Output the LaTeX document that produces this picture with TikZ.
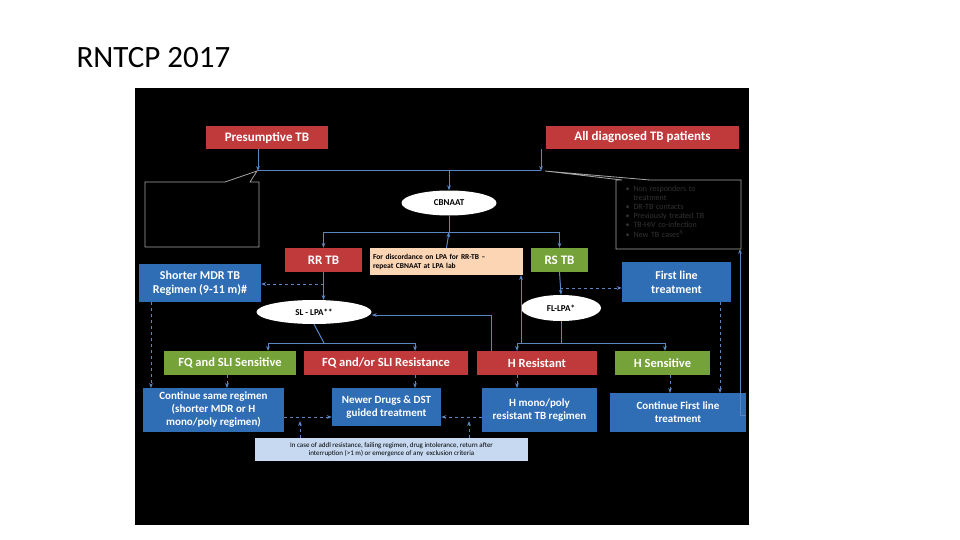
\documentclass[tikz,border=0pt]{standalone}
\usepackage{fontspec}
\setmainfont{Carlito}
\usetikzlibrary{arrows.meta,shapes.geometric}
\definecolor{rd}{HTML}{C0393B}
\definecolor{gr}{HTML}{76A23A}
\definecolor{bl}{HTML}{2F6DB5}
\definecolor{ln}{HTML}{5B86C4}
\definecolor{org}{HTML}{FCD5B5}
\definecolor{nb}{HTML}{C6D9F1}
\tikzset{
 bx/.style={draw=none,text=white,font=\bfseries,align=center,inner sep=0pt},
 rbox/.style={bx,fill=rd,font=\bfseries\fontsize{13}{14}\selectfont},
 gbox/.style={bx,fill=gr,font=\bfseries\fontsize{12.5}{14}\selectfont},
 bbox/.style={bx,fill=bl,font=\bfseries\fontsize{11}{13}\selectfont},
 ell/.style={ellipse,fill=white,inner sep=0pt,font=\bfseries\fontsize{9}{10}\selectfont},
 ar/.style={ln,line width=1pt,-{Stealth[length=5pt]}},
 da/.style={ar,dashed},
 pl/.style={ln,line width=1pt}
}
\begin{document}
\begin{tikzpicture}[x=1pt,y=-1pt]
\fill[white] (0,0) rectangle (960,540);
\node[anchor=west,font=\fontsize{31}{34}\selectfont] (title) at (73,58) {RNTCP 2017};
\fill[black] (135,88) rectangle (749,525);
% top
\node[rbox,minimum width=122,minimum height=23] (pt) at (267,137.5) {Presumptive TB};
\node[rbox,minimum width=193,minimum height=23] (ad) at (642.5,137.5) {All diagnosed TB patients};
\coordinate (j1) at (258,171); \coordinate (j2) at (541,171); \coordinate (jc) at (449,171);
\draw[ar] (pt.south -| j1) -- (j1);
\draw[ar] (ad.south -| j2) -- (j2);
\draw[pl] (j1) -- (j2);
% callouts
\draw[gray!70,line width=0.8pt] (145,182) -- (225,182) -- (257,171) -- (250,182) -- (259,182) -- (259,247) -- (145,247) -- cycle;
\node[inner sep=0] (lc) at (202,215) {};
\draw[gray!70,line width=0.8pt] (616,180) -- (622,180) -- (545,171) -- (650,180) -- (741,180) -- (741,249) -- (616,249) -- cycle;
\node[anchor=north west,text=black!80!white,font=\fontsize{8}{9.2}\selectfont,align=left,text width=110] (rc) at (622,182)
 {\textbullet\enspace Non responders to\\\phantom{\textbullet\enspace}treatment\\\textbullet\enspace DR-TB contacts\\\textbullet\enspace Previously treated TB\\\textbullet\enspace TB-HIV co-infection\\\textbullet\enspace New TB cases$^{\$}$};
% CBNAAT
\node[ell,minimum width=95,minimum height=25] (cb) at (449,203) {CBNAAT};
\draw[ar] (jc) -- (cb.north);
\coordinate (k) at (449,232);
\draw[pl] (cb.south) -- (k);
\node[rbox,minimum width=77,minimum height=24] (rr) at (323.5,260) {RR TB};
\node[gbox,minimum width=57,minimum height=24,font=\bfseries\fontsize{13}{14}\selectfont] (rs) at (559.5,260) {RS TB};
\draw[ar] (k) -- (323.5,232) -- (rr.north);
\draw[ar] (k) -- (559.5,232) -- (rs.north);
\node[fill=org,minimum width=153,minimum height=27,inner sep=0pt,text width=147,align=left,font=\bfseries\fontsize{7.5}{9}\selectfont] (dc) at (446.5,261.5) {For discordance on LPA for RR-TB –\\repeat CBNAAT at LPA lab};
\draw[ar] (dc.north) -- (k);
% side boxes
\node[bbox,minimum width=122,minimum height=38,font=\bfseries\fontsize{12}{14}\selectfont] (sm) at (200,283) {Shorter MDR TB\\Regimen (9-11 m)\#};
\node[bbox,minimum width=109,minimum height=40,font=\bfseries\fontsize{12}{14}\selectfont] (fl) at (676.5,282) {First line\\treatment};
\draw[da] (323.5,284) -- (sm.east |- 0,284);
\draw[da] (559.5,288) -- (fl.west |- 0,288);
% LPA
\node[ell,minimum width=115,minimum height=24] (sl) at (314,312) {SL - LPA**};
\node[ell,minimum width=80,minimum height=26] (fp) at (561,308) {FL-LPA*};
\draw[ar] (rr.south -| 323.5,0) -- (323.5,300);
\draw[ar] (rs.south) -- (fp.north);
% row
\node[gbox,minimum width=132,minimum height=24] (fs) at (230,363) {FQ and SLI Sensitive};
\node[rbox,minimum width=164,minimum height=24,font=\bfseries\fontsize{12.5}{14}\selectfont] (fr) at (386,363) {FQ and/or SLI Resistance};
\node[rbox,minimum width=120,minimum height=24,font=\bfseries\fontsize{12.5}{14}\selectfont] (hr) at (537,363) {H Resistant};
\node[gbox,minimum width=95,minimum height=24] (hs) at (662.5,363) {H Sensitive};
\draw[pl] (sl.south) -- (324,343);
\draw[pl] (268,343) -- (415,343);
\draw[ar] (268,343) -- (268,351);
\draw[ar] (415,343) -- (415,351);
\draw[pl] (fp.south) -- (561,343);
\draw[pl] (517,343) -- (665,343);
\draw[ar] (517,343) -- (517,351);
\draw[ar] (665,343) -- (665,351);
\draw[ar] (521,343) -- (521,275);
\draw[ar] (491,351) -- (491,315) -- (sl.east |- 0,315);
% bottom
\node[bbox,minimum width=141,minimum height=44] (cs) at (213.5,410) {Continue same regimen\\(shorter MDR or H\\mono/poly regimen)};
\node[bbox,minimum width=109,minimum height=38] (nd) at (386.5,407) {Newer Drugs \& DST\\guided treatment};
\node[bbox,minimum width=115,minimum height=44] (hm) at (539.5,410) {H mono/poly\\resistant TB regimen};
\node[bbox,minimum width=136,minimum height=39] (cf) at (678,412.5) {Continue First line\\treatment};
\draw[da] (151,302) -- (151,388);
\draw[da] (227,375) -- (227,388);
\draw[da] (415,375) -- (415,388);
\draw[da] (517,375) -- (517,388);
\draw[da] (670,375) -- (670,393);
\draw[da] (720,302) -- (720,393);
\draw[da] (cs.east |- 0,417) -- (nd.west |- 0,417);
\draw[da] (hm.west |- 0,417) -- (nd.east |- 0,417);
\draw[ar] (cf.east |- 0,415) -- (740,415) -- (740,249);
\node[fill=nb,minimum width=273,minimum height=23,inner sep=0pt,align=center,font=\fontsize{7}{8.5}\selectfont] (nt) at (391.5,449.5) {In case of addl resistance, failing regimen, drug intolerance, return after\\interruption (>1 m) or emergence of any\ \ exclusion criteria};
\draw[da] (300,438) -- (300,421);
\draw[da] (469,438) -- (469,421);
\end{tikzpicture}
\end{document}
